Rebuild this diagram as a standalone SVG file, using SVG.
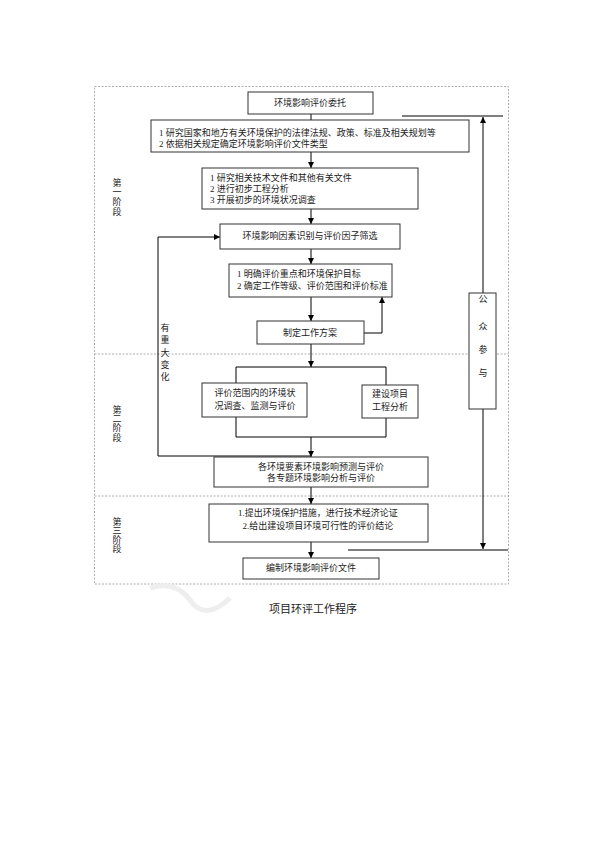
<svg xmlns="http://www.w3.org/2000/svg" width="595" height="841" viewBox="0 0 595 841">
<defs>
<marker id="ah" viewBox="0 0 10 10" refX="10" refY="5" markerWidth="6" markerHeight="6" orient="auto" markerUnits="userSpaceOnUse"><path d="M0,0 L10,5 L0,10 z" fill="#000"/></marker>
<style>
.box{fill:#fff;stroke:#333;stroke-width:1}
.t{font-family:"Liberation Serif","Noto Sans CJK SC",serif;font-size:9px;fill:#222}
.c{text-anchor:middle}
.ln{fill:none;stroke:#000;stroke-width:1}
.dash{fill:none;stroke:#999;stroke-width:0.8;stroke-dasharray:2,1.5}
</style>
</defs>
<rect width="595" height="841" fill="#fff"/>
<g id="frame">
<rect class="dash" x="94.5" y="86.5" width="414" height="497.5"/>
<line class="dash" x1="94.5" y1="354" x2="508.5" y2="354"/>
<line class="dash" x1="94.5" y1="496" x2="508.5" y2="496"/>
</g>
<g id="watermark" fill="none" stroke="#eee" stroke-width="5">
<path d="M150,588 Q175,580 190,600 Q205,622 230,598"/>
</g>
<g id="stage-labels" class="t c">
<text x="117" y="186">第</text><text x="117" y="195">一</text><text x="117" y="205">阶</text><text x="117" y="215">段</text>
<text x="117" y="413">第</text><text x="117" y="422">二</text><text x="117" y="431">阶</text><text x="117" y="441">段</text>
<text x="117" y="525">第</text><text x="117" y="534">三</text><text x="117" y="543">阶</text><text x="117" y="552">段</text>
</g>
<g id="connectors">
<line class="ln" x1="311" y1="114" x2="311" y2="120"/>
<line class="ln" x1="311" y1="152" x2="311" y2="168" marker-end="url(#ah)"/>
<line class="ln" x1="311" y1="209" x2="311" y2="224" marker-end="url(#ah)"/>
<line class="ln" x1="311" y1="249" x2="311" y2="264" marker-end="url(#ah)"/>
<line class="ln" x1="311" y1="297" x2="311" y2="321" marker-end="url(#ah)"/>
<polyline class="ln" points="364,333 382,333 382,297" marker-end="url(#ah)"/>
<line class="ln" x1="311" y1="344" x2="311" y2="367" marker-end="url(#ah)"/>
<polyline class="ln" points="236,383 236,367 386,367 386,385"/>
<polyline class="ln" points="236,417 236,437 386,437 386,418"/>
<line class="ln" x1="311" y1="437" x2="311" y2="457" marker-end="url(#ah)"/>
<polyline class="ln" points="311,456 158,456 158,237 220,237" marker-end="url(#ah)"/>
<line class="ln" x1="311" y1="487" x2="311" y2="504" marker-end="url(#ah)"/>
<line class="ln" x1="311" y1="542" x2="311" y2="558" marker-end="url(#ah)"/>
<line class="ln" x1="402" y1="116" x2="503" y2="116"/>
<line class="ln" x1="483" y1="293" x2="483" y2="117" marker-end="url(#ah)"/>
<line class="ln" x1="483" y1="409" x2="483" y2="549" marker-end="url(#ah)"/>
<line class="ln" x1="348" y1="550" x2="508" y2="550"/>
</g>
<g id="change-label" class="t c">
<text x="165" y="331">有</text><text x="165" y="343">重</text><text x="165" y="356">大</text><text x="165" y="368">变</text><text x="165" y="380">化</text>
</g>
<g id="n1"><rect class="box" x="248" y="92" width="125" height="22"/><text class="t c" x="310" y="106">环境影响评价委托</text></g>
<g id="n2"><rect class="box" x="151" y="120" width="318" height="32"/>
<text class="t" x="159" y="136">1 研究国家和地方有关环境保护的法律法规、政策、标准及相关规划等</text>
<text class="t" x="159" y="147">2 依据相关规定确定环境影响评价文件类型</text></g>
<g id="n3"><rect class="box" x="202" y="168" width="216" height="41"/>
<text class="t" x="210" y="181">1 研究相关技术文件和其他有关文件</text>
<text class="t" x="210" y="192">2 进行初步工程分析</text>
<text class="t" x="210" y="203">3 开展初步的环境状况调查</text></g>
<g id="n4"><rect class="box" x="220" y="224" width="180" height="25"/><text class="t c" x="310" y="239">环境影响因素识别与评价因子筛选</text></g>
<g id="n5"><rect class="box" x="229" y="264" width="163" height="33"/>
<text class="t" x="237" y="277">1 明确评价重点和环境保护目标</text>
<text class="t" x="237" y="289">2 确定工作等级、评价范围和评价标准</text></g>
<g id="n6"><rect class="box" x="257" y="321" width="107" height="23"/><text class="t c" x="310" y="336">制定工作方案</text></g>
<g id="n7"><rect class="box" x="202" y="383" width="105" height="34"/>
<text class="t c" x="255" y="396">评价范围内的环境状</text>
<text class="t c" x="255" y="409">况调查、监测与评价</text></g>
<g id="n8"><rect class="box" x="362" y="385" width="56" height="33"/>
<text class="t c" x="390" y="397">建设项目</text>
<text class="t c" x="390" y="410">工程分析</text></g>
<g id="n9"><rect class="box" x="214" y="457" width="214" height="30"/>
<text class="t c" x="321" y="470">各环境要素环境影响预测与评价</text>
<text class="t c" x="321" y="481">各专题环境影响分析与评价</text></g>
<g id="n10"><rect class="box" x="209" y="504" width="219" height="38"/>
<text class="t c" x="318" y="516">1.提出环境保护措施，进行技术经济论证</text>
<text class="t c" x="318" y="529">2.给出建设项目环境可行性的评价结论</text></g>
<g id="n11"><rect class="box" x="243" y="558" width="136" height="21"/><text class="t c" x="311" y="571">编制环境影响评价文件</text></g>
<g id="n12"><rect class="box" x="469" y="293" width="27" height="116"/>
<text class="t c" x="483" y="302">公</text><text class="t c" x="483" y="330">众</text><text class="t c" x="483" y="353">参</text><text class="t c" x="483" y="376">与</text></g>
<text x="313" y="613" text-anchor="middle" font-family="Liberation Serif,Noto Sans CJK SC,serif" font-size="11" fill="#222">项目环评工作程序</text>
</svg>
